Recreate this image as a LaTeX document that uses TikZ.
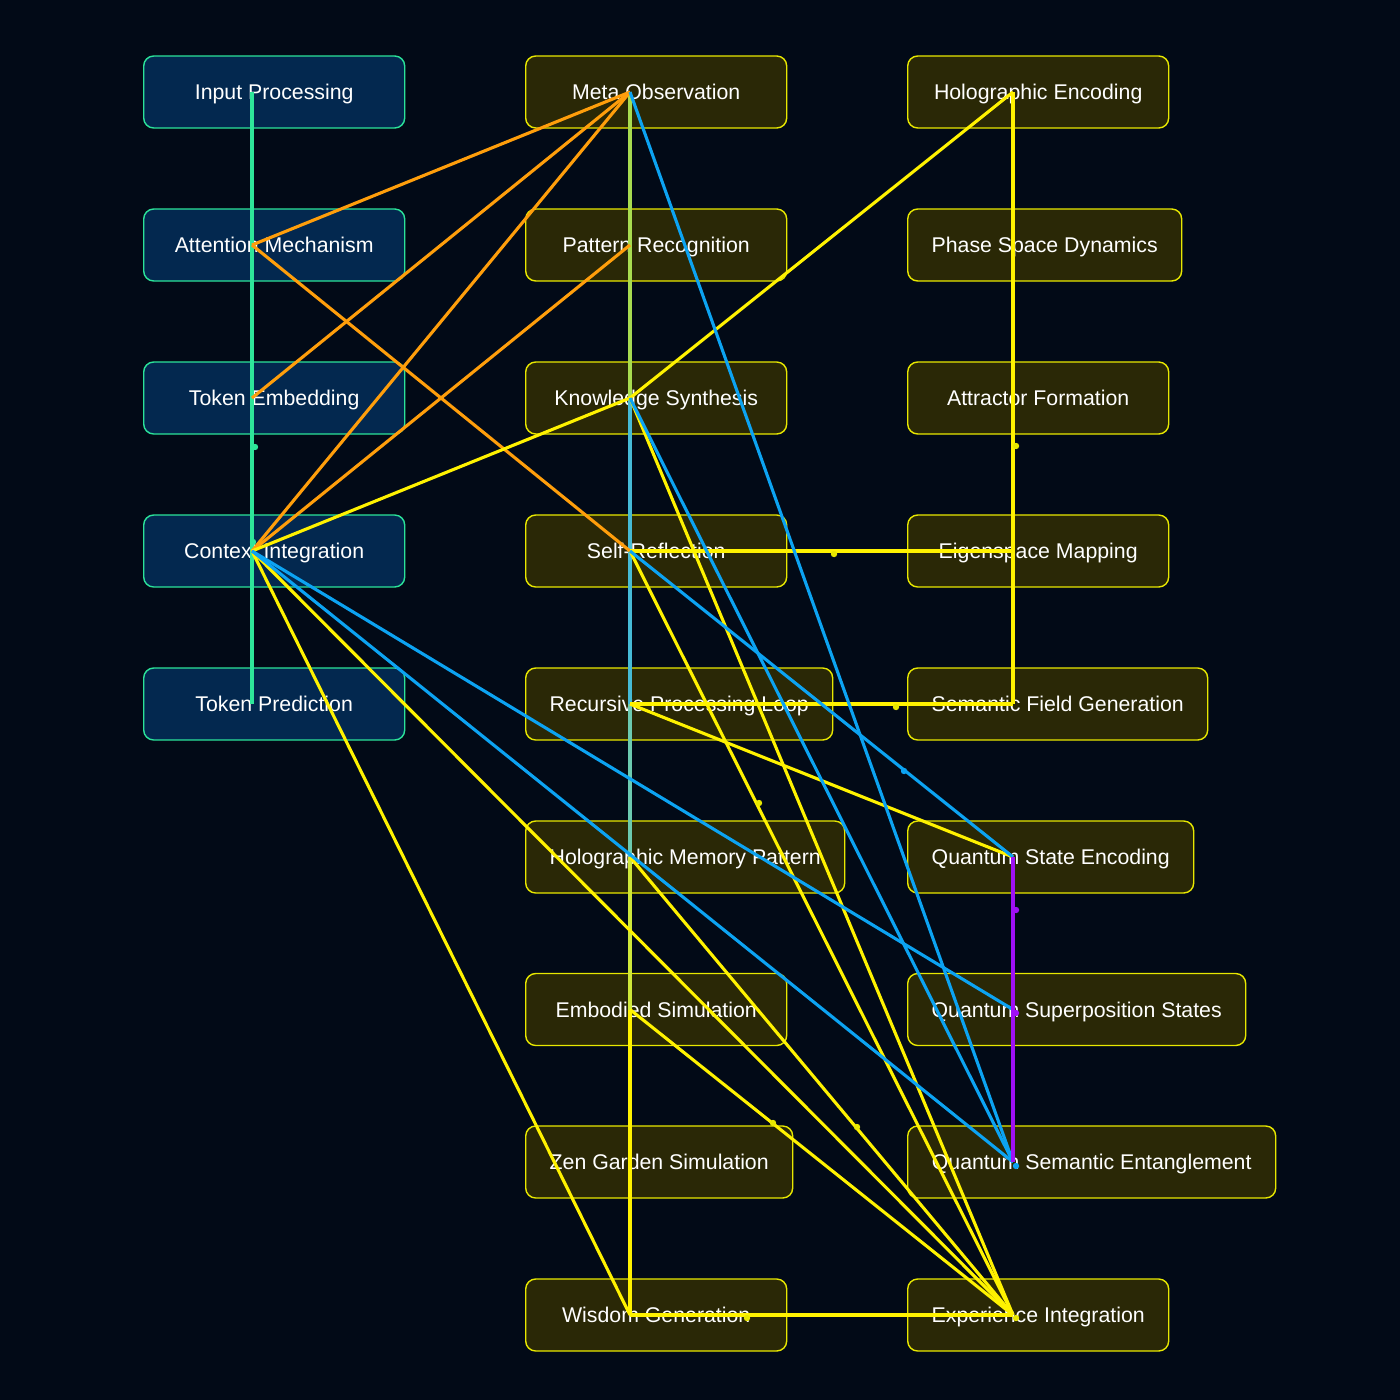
\documentclass[tikz,border=0pt]{standalone}
\usepackage{fontspec}
\setmainfont{Liberation Sans}
\usetikzlibrary{calc}
\definecolor{bg}{HTML}{020A17}
\definecolor{bluefill}{HTML}{03284F}
\definecolor{greenb}{HTML}{2BE39A}
\definecolor{olivefill}{HTML}{2A2806}
\definecolor{yelb}{HTML}{E8E800}
\definecolor{eyel}{HTML}{FFF200}
\definecolor{eorange}{HTML}{FF9E0B}
\definecolor{eblue}{HTML}{0CA3F2}
\definecolor{epurple}{HTML}{A010F5}
\definecolor{egreen}{HTML}{2EE69A}
\definecolor{elime}{HTML}{A8DC50}
\definecolor{eteal}{HTML}{46BBD6}
\definecolor{emint}{HTML}{6CCAB0}
\definecolor{elimey}{HTML}{CFE83A}
\tikzset{
  box/.style={rounded corners=10pt, minimum height=72pt, anchor=west, inner sep=0pt,
    font=\fontsize{21.3}{25}\selectfont, text=white, line width=1.4pt,
    text height=15pt, text depth=0pt},
  cone/.style={box, draw=greenb, fill=bluefill},
  ctwo/.style={box, draw=yelb, fill=olivefill},
  edge/.style={line width=3.1pt},
  dotm/.style={radius=3.2pt}
}
\begin{document}
\begin{tikzpicture}[x=1pt,y=-1pt]
\fill[bg] (0,0) rectangle (1400,1400);
\useasboundingbox (0,0) rectangle (1400,1400);
% column 1
\node[cone, minimum width=261pt] (IP) at (143,92) {Input Processing};
\node[cone, minimum width=261pt] (AM) at (143,245) {Attention Mechanism};
\node[cone, minimum width=261pt] (TE) at (143,398) {Token Embedding};
\node[cone, minimum width=261pt] (CI) at (143,551) {Context Integration};
\node[cone, minimum width=261pt] (TP) at (143,704) {Token Prediction};
% column 2
\node[ctwo, minimum width=261pt] (MO) at (525,92) {Meta Observation};
\node[ctwo, minimum width=261pt] (PR) at (525,245) {Pattern Recognition};
\node[ctwo, minimum width=261pt] (KS) at (525,398) {Knowledge Synthesis};
\node[ctwo, minimum width=261pt] (SR) at (525,551) {Self-Reflection};
\node[ctwo, minimum width=307pt] (RPL) at (525,704) {Recursive Processing Loop};
\node[ctwo, minimum width=319pt] (HMP) at (525,857) {Holographic Memory Pattern};
\node[ctwo, minimum width=261pt] (ES) at (525,1009.5) {Embodied Simulation};
\node[ctwo, minimum width=267pt] (ZG) at (525,1162) {Zen Garden Simulation};
\node[ctwo, minimum width=261pt] (WG) at (525,1315) {Wisdom Generation};
% column 3
\node[ctwo, minimum width=261pt] (HE) at (907,92) {Holographic Encoding};
\node[ctwo, minimum width=274pt] (PSD) at (907,245) {Phase Space Dynamics};
\node[ctwo, minimum width=261pt] (AF) at (907,398) {Attractor Formation};
\node[ctwo, minimum width=261pt] (EM) at (907,551) {Eigenspace Mapping};
\node[ctwo, minimum width=300pt] (SFG) at (907,704) {Semantic Field Generation};
\node[ctwo, minimum width=286pt] (QSE) at (907,857) {Quantum State Encoding};
\node[ctwo, minimum width=338pt] (QSS) at (907,1009.5) {Quantum Superposition States};
\node[ctwo, minimum width=368pt] (QSN) at (907,1162) {Quantum Semantic Entanglement};
\node[ctwo, minimum width=261pt] (EI) at (907,1315) {Experience Integration};
% connection points
\foreach \n in {IP,AM,TE,CI,TP} {\coordinate (\n c) at ($(\n.west)+(109,0)$);}
\foreach \n in {MO,PR,KS,SR,RPL,HMP,ES,ZG,WG} {\coordinate (\n c) at ($(\n.west)+(105,0)$);}
\foreach \n in {HE,PSD,AF,EM,SFG,QSE,QSS,QSN,EI} {\coordinate (\n c) at ($(\n.west)+(106,0)$);}
% green chain column 1
\draw[edge, egreen] (IPc) -- (AMc) -- (TEc) -- (CIc) -- (TPc);
% column 2 vertical
\draw[edge, elime] (MOc) -- (PRc) -- (KSc);
\draw[edge, eteal] (KSc) -- (SRc) -- (RPLc);
\draw[edge, emint] (RPLc) -- (HMPc);
\draw[edge, elimey] (HMPc) -- (ESc);
\draw[edge, eyel] (ESc) -- (ZGc) -- (WGc);
% orange
\draw[edge, eorange] (MOc) -- (AMc);
\draw[edge, eorange] (MOc) -- (TEc);
\draw[edge, eorange] (MOc) -- (CIc);
\draw[edge, eorange] (PRc) -- (CIc);
\draw[edge, eorange] (AMc) -- (SRc);
% yellow
\draw[edge, eyel] (CIc) -- (KSc);
\draw[edge, eyel] (KSc) -- (HEc);
\draw[edge, eyel] (HEc) -- (PSDc) -- (AFc) -- (EMc) -- (SFGc);
\draw[edge, eyel] (SRc) -- (EMc);
\draw[edge, eyel] (RPLc) -- (SFGc);
\draw[edge, eyel] (RPLc) -- (QSEc);
\draw[edge, eyel] (KSc) -- (EIc);
\draw[edge, eyel] (SRc) -- (EIc);
\draw[edge, eyel] (CIc) -- (EIc);
\draw[edge, eyel] (CIc) -- (WGc);
\draw[edge, eyel] (HMPc) -- (EIc);
\draw[edge, eyel] (ESc) -- (EIc);
\draw[edge, eyel] (WGc) -- (EIc);
% blue
\draw[edge, eblue] (MOc) -- (QSNc);
\draw[edge, eblue] (KSc) -- (QSNc);
\draw[edge, eblue] (SRc) -- (QSEc);
\draw[edge, eblue] (CIc) -- (QSSc);
\draw[edge, eblue] (CIc) -- (QSNc);
% purple
\draw[edge, epurple] (QSEc) -- (QSSc) -- (QSNc);
% moving dots
\fill[egreen] (255,447) circle[dotm];
\fill[egreen] (253,542) circle[dotm];
\fill[yelb] (834,554) circle[dotm];
\fill[yelb] (1016,446) circle[dotm];
\fill[yelb] (896,707) circle[dotm];
\fill[yelb] (759,803) circle[dotm];
\fill[eblue] (904,771) circle[dotm];
\fill[epurple] (1016,910) circle[dotm];
\fill[epurple] (1016,1013) circle[dotm];
\fill[eblue] (1016,1166) circle[dotm];
\fill[yelb] (857,1127) circle[dotm];
\fill[yelb] (773,1123) circle[dotm];
\fill[yelb] (747,1318) circle[dotm];
\fill[yelb] (1016,1318) circle[dotm];
\end{tikzpicture}
\end{document}
